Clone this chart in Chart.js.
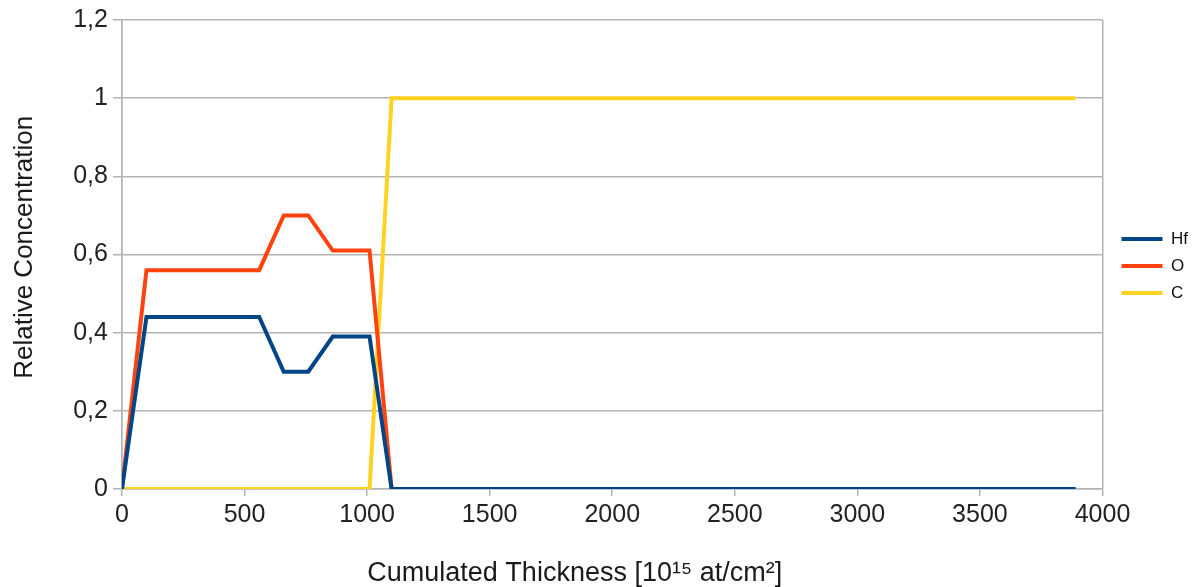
<!DOCTYPE html>
<html>
<head>
<meta charset="utf-8">
<script src="https://cdn.jsdelivr.net/npm/chart.js@4/dist/chart.umd.min.js"></script>
<style>
    html, body { margin: 0; padding: 0; background: #fff; }
    #wrap { width: 1198px; height: 587px; }
</style>
</head>
<body>
<div id="wrap"><canvas id="profile"></canvas></div>
<script>
const thickness = [0, 100, 560, 660, 760, 860, 1010, 1100, 3890];
const hf = [0, 0.44, 0.44, 0.30, 0.30, 0.39, 0.39, 0, 0];
const oxy = [0, 0.56, 0.56, 0.70, 0.70, 0.61, 0.61, 0, 0];
const carbon = [0, 0, 0, 0, 0, 0, 0, 1, 1];
const seriesNames = ['Hf', 'O', 'C'];

const xTicks = [0, 500, 1000, 1500, 2000, 2500, 3000, 3500, 4000];
const yTicks = [0, 0.2, 0.4, 0.6, 0.8, 1, 1.2];

const GRID = '#b3b3b3';
const FONT = 'Liberation Sans, Arial, sans-serif';
const NBSP = '\u00a0';

function points(ys) {
    return thickness.map((x, i) => ({ x, y: ys[i] }));
}

function line(label, ys, color) {
    return {
        label,
        data: points(ys),
        borderColor: color,
        backgroundColor: color,
        borderWidth: 4,
        pointRadius: 0,
        tension: 0,
        showLine: true,
        borderJoinStyle: 'miter',
    };
}

new Chart(document.getElementById('profile').getContext('2d'), {
    type: 'scatter',
    data: {
        datasets: [
            line(seriesNames[0], hf, '#004586'),
            line(seriesNames[1], oxy, '#ff420e'),
            line(seriesNames[2], carbon, '#ffd320'),
        ],
    },
    options: {
        responsive: true,
        maintainAspectRatio: false,
        animation: false,
        layout: { padding: { top: 4, right: 0, left: 9, bottom: 0 } },
        plugins: {
            tooltip: { enabled: false },
            legend: {
                position: 'right',
                align: 'start',
                title: {
                    display: true,
                    text: '',
                    padding: { top: 202, bottom: 0 },
                },
                labels: {
                    usePointStyle: true,
                    pointStyle: 'line',
                    pointStyleWidth: 41,
                    boxHeight: 4,
                    padding: 10,
                    color: '#111',
                    font: { family: FONT, size: 17 },
                },
            },
        },
        scales: {
            x: {
                type: 'linear',
                min: 0,
                max: 4000,
                afterBuildTicks: (axis) => { axis.ticks = xTicks.map((v) => ({ value: v })); },
                ticks: {
                    color: '#222',
                    padding: 4,
                    maxRotation: 0,
                    font: { family: FONT, size: 25 },
                    callback: (v) => String(v),
                },
                grid: {
                    color: (ctx) => (ctx.tick && (ctx.tick.value === 0 || ctx.tick.value === 4000) ? GRID : 'rgba(0,0,0,0)'),
                    tickColor: GRID,
                    tickLength: 7,
                    lineWidth: 1.5,
                },
                border: { color: GRID, width: 1.5 },
                title: {
                    display: true,
                    // trailing spaces nudge the centred title to the left, as in the original
                    text: 'Cumulated Thickness [10\u00b9\u2075 at/cm\u00b2]' + NBSP.repeat(10),
                    color: '#1a1a1a',
                    font: { family: FONT, size: 27, lineHeight: 1 },
                    padding: { top: 26, bottom: 0 },
                },
            },
            y: {
                min: 0,
                max: 1.2,
                afterBuildTicks: (axis) => { axis.ticks = yTicks.map((v) => ({ value: v })); },
                ticks: {
                    color: '#222',
                    padding: 5,
                    font: { family: FONT, size: 25 },
                    callback: (v) => String(+Number(v).toFixed(1)).replace('.', ','),
                },
                grid: {
                    color: GRID,
                    tickColor: GRID,
                    tickLength: 9,
                    lineWidth: 1.5,
                },
                border: { color: GRID, width: 1.5 },
                title: {
                    display: true,
                    text: NBSP.repeat(2) + 'Relative Concentration',
                    color: '#1a1a1a',
                    font: { family: FONT, size: 26 },
                    padding: { top: 0, bottom: 28 },
                },
            },
            // empty spacer between the plot and the legend
            gap: {
                type: 'linear',
                position: 'right',
                display: true,
                grid: { display: false },
                ticks: { display: false },
                border: { display: false },
                afterFit: (axis) => { axis.width = 9; },
            },
        },
    },
});
</script>
</body>
</html>
